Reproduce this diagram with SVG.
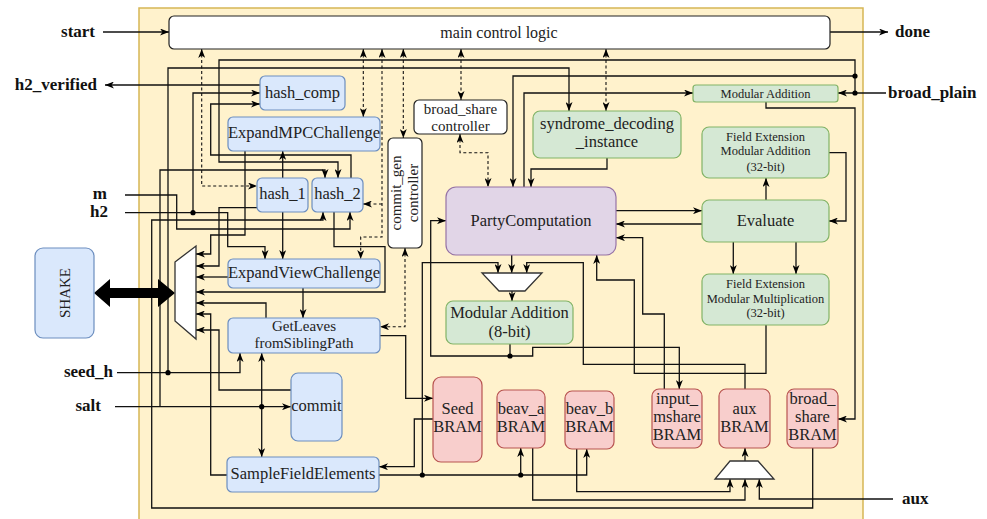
<svg xmlns="http://www.w3.org/2000/svg" width="987" height="519" viewBox="0 0 987 519">
<style>
.t{font-family:"Liberation Serif","DejaVu Serif",serif;font-size:16.5px;fill:#222;text-anchor:middle}
.t2{font-size:15px}
.s{font-family:"Liberation Serif","DejaVu Serif",serif;font-size:12.5px;fill:#222;text-anchor:middle}
.b{font-family:"Liberation Serif","DejaVu Serif",serif;font-size:17px;font-weight:bold;fill:#111}
.blue{fill:#dae8fc;stroke:#6c8ebf;stroke-width:1.2}
.green{fill:#d5e8d4;stroke:#82b366;stroke-width:1.2}
.red{fill:#f8cecc;stroke:#b85450;stroke-width:1.2}
.purple{fill:#e1d5e7;stroke:#9673a6;stroke-width:1.2}
.white{fill:#fff;stroke:#222;stroke-width:1.2}
.mux{fill:#fff;stroke:#333;stroke-width:1.3}
#connectors path{fill:none;stroke:#111;stroke-width:1.3}
#connectors path.d{stroke-dasharray:3 2.5;stroke-width:1.1}
#connectors circle{fill:#000}
</style>
<defs>
<marker id="ah" viewBox="0 0 9 7" refX="9" refY="3.5" markerWidth="9" markerHeight="7" markerUnits="userSpaceOnUse" orient="auto-start-reverse">
<path d="M0,0 L9,3.5 L0,7 L2.5,3.5 z" fill="#000"/>
</marker>
</defs>

<!-- accelerator region -->
<rect x="139" y="8" width="724" height="520" fill="#fff2cc" stroke="#d6b656" stroke-width="1.5"/>

<!-- external port labels -->
<text class="b" x="95" y="37" text-anchor="end">start</text>
<text class="b" x="895" y="37">done</text>
<text class="b" x="97" y="90" text-anchor="end">h2_verified</text>
<text class="b" x="888" y="98">broad_plain</text>
<text class="b" x="107" y="199" text-anchor="end">m</text>
<text class="b" x="108" y="217" text-anchor="end">h2</text>
<text class="b" x="113" y="377" text-anchor="end">seed_h</text>
<text class="b" x="101" y="411" text-anchor="end">salt</text>
<text class="b" x="902" y="504">aux</text>

<g id="connectors">
<!-- control ports -->
<path d="M103,32 H169" marker-end="url(#ah)"/>
<path d="M830,32 H888" marker-end="url(#ah)"/>
<path d="M260,85 H105" marker-end="url(#ah)"/>
<!-- inputs h2 / m / seed_h / salt / broad_plain -->
<path d="M125,212.7 H227.7 V246.7 H265 V259" marker-end="url(#ah)"/>
<path d="M193,212.7 V93 H260" marker-end="url(#ah)"/>
<path d="M125,195 H176.7 V229 H350 V212" marker-end="url(#ah)"/>
<path d="M117,372.7 H240 V353" marker-end="url(#ah)"/>
<path d="M168,372.7 V68 H569 V111" marker-end="url(#ah)"/>
<path d="M115,406.7 H291" marker-end="url(#ah)"/>
<path d="M261.7,353 V457" marker-start="url(#ah)" marker-end="url(#ah)"/>
<path d="M160,406.7 V170 H325 V178" marker-end="url(#ah)"/>
<path d="M886,93 H838" marker-end="url(#ah)"/>
<path d="M855,93 V60 H219 V162 H338 V178" marker-end="url(#ah)"/>
<path d="M855,76 H513 V187" marker-end="url(#ah)"/>
<!-- hash blocks -->
<path d="M351,178 V155 H210.7 V104 H260" marker-end="url(#ah)"/>
<path d="M812.7,448 V508 H151.7 V220 H323 V212" marker-end="url(#ah)"/>
<path d="M282.7,178 V151" marker-end="url(#ah)"/>
<path d="M282.7,212 V259" marker-end="url(#ah)"/>
<!-- SHAKE multiplexer inputs -->
<path d="M245,151 V235 H210.7 V254 H196" marker-end="url(#ah)"/>
<path d="M257,207.7 H219 V266 H196" marker-end="url(#ah)"/>
<path d="M228,277 H196" marker-end="url(#ah)"/>
<path d="M334,212 V246.7 H385 V292 H196" marker-end="url(#ah)"/>
<path d="M266,318 V303 H196" marker-end="url(#ah)"/>
<path d="M227,475 H210.7 V314 H196" marker-end="url(#ah)"/>
<path d="M291,390 H219 V330 H196" marker-end="url(#ah)"/>
<!-- leaves, seeds and field elements -->
<path d="M303,288 V318" marker-end="url(#ah)"/>
<path d="M380,335.7 H405.7 V398.3 H433" marker-end="url(#ah)"/>
<path d="M433,419 H414.3 V466.7 H379" marker-end="url(#ah)"/>
<path d="M379,475 H586.7 V449" marker-end="url(#ah)"/>
<path d="M520.7,475 V448" marker-end="url(#ah)"/>
<path d="M422.3,475 V262.7 H498 V273" marker-end="url(#ah)"/>
<!-- party computation datapath -->
<path d="M511.7,255 V273" marker-end="url(#ah)"/>
<path d="M745,389 V364.3 H583.3 V262.7 H526.7 V273" marker-end="url(#ah)"/>
<path d="M512,291 V301" marker-end="url(#ah)"/>
<path d="M510,344 V356 H430.7 V220.7 H446" marker-end="url(#ah)"/>
<path d="M510,356 H532.7 V347.3 H679.3 V389" marker-end="url(#ah)"/>
<path d="M664.3,389 V314 H642.7 V237.7 H616" marker-end="url(#ah)"/>
<path d="M766,325 V373.3 H634.3 V280 H596.7 V255" marker-end="url(#ah)"/>
<path d="M616,210.7 H702" marker-end="url(#ah)"/>
<path d="M702,224 H616" marker-end="url(#ah)"/>
<path d="M766,200 V178" marker-end="url(#ah)"/>
<path d="M829,152.7 H846 V221 H829" marker-end="url(#ah)"/>
<path d="M733.3,242 V274" marker-end="url(#ah)"/>
<path d="M796,242 V274" marker-end="url(#ah)"/>
<path d="M607,158 V169 H531 V187" marker-end="url(#ah)"/>
<path d="M524,187 V93 H693" marker-end="url(#ah)"/>
<path d="M766,102 V108 H855 V419 H838" marker-end="url(#ah)"/>
<!-- aux multiplexer -->
<path d="M532.7,448 V500 H745 V479" marker-end="url(#ah)"/>
<path d="M576.7,449 V491.7 H730 V479" marker-end="url(#ah)"/>
<path d="M893,499 H759.3 V479" marker-end="url(#ah)"/>
<path d="M745,461 V448" marker-end="url(#ah)"/>
<!-- control handshakes -->
<path class="d" d="M201.7,49 V186 H257" marker-start="url(#ah)" marker-end="url(#ah)"/>
<path class="d" d="M363.3,49 V117" marker-start="url(#ah)" marker-end="url(#ah)"/>
<path class="d" d="M382,49 V237 H360.7 V259" marker-start="url(#ah)" marker-end="url(#ah)"/>
<path class="d" d="M382,204 H363" marker-end="url(#ah)"/>
<path class="d" d="M403.3,49 V138" marker-start="url(#ah)" marker-end="url(#ah)"/>
<path class="d" d="M461,49 V100" marker-start="url(#ah)" marker-end="url(#ah)"/>
<path class="d" d="M606,49 V111" marker-start="url(#ah)" marker-end="url(#ah)"/>
<path class="d" d="M460,134 V152.7 H488 V187" marker-start="url(#ah)" marker-end="url(#ah)"/>
<path class="d" d="M405,248 V326.7 H380" marker-start="url(#ah)" marker-end="url(#ah)"/>
<!-- junctions -->
<circle cx="193" cy="212.7" r="2.6"/>
<circle cx="855" cy="93" r="2.6"/>
<circle cx="855" cy="76" r="2.6"/>
<circle cx="168" cy="372.7" r="2.6"/>
<circle cx="261.7" cy="406.7" r="2.6"/>
<circle cx="422.3" cy="475" r="2.6"/>
<circle cx="520.7" cy="475" r="2.6"/>
<circle cx="510" cy="356" r="2.6"/>
<!-- SHAKE bus -->
<polygon points="94,293 110,279 110,288 158,288 158,279 175,293 158,307 158,298 110,298 110,307" fill="#000"/>
</g>

<g id="main-control">
<rect class="white" x="169" y="16" width="661" height="33" rx="5"/>
<text class="t" x="499" y="38" style="font-size:16px">main control logic</text>
</g>
<g id="hash-comp">
<rect class="blue" x="260" y="76" width="85" height="34" rx="5"/>
<text class="t" x="302.5" y="98">hash_comp</text>
</g>
<g id="expand-mpc-challenge">
<rect class="blue" x="228" y="117" width="152" height="34" rx="5"/>
<text class="t" x="304" y="138">ExpandMPCChallenge</text>
</g>
<g id="hash-1">
<rect class="blue" x="257" y="178" width="51" height="34" rx="5"/>
<text class="t" x="282.5" y="199">hash_1</text>
</g>
<g id="hash-2">
<rect class="blue" x="312" y="178" width="51" height="34" rx="5"/>
<text class="t" x="337.5" y="199">hash_2</text>
</g>
<g id="commit-gen-controller">
<rect class="white" x="388" y="138" width="34" height="110" rx="5"/>
<text class="t t2" transform="translate(401,193) rotate(-90)">commit_gen</text>
<text class="t t2" transform="translate(418,193) rotate(-90)">controller</text>
</g>
<g id="broad-share-controller">
<rect class="white" x="414" y="100" width="93" height="34" rx="5"/>
<text class="t t2" x="460.5" y="114">broad_share</text>
<text class="t t2" x="460.5" y="130.5">controller</text>
</g>
<g id="syndrome-decoding-instance">
<rect class="green" x="533" y="111" width="148" height="47" rx="7"/>
<text class="t" x="607" y="129">syndrome_decoding</text>
<text class="t" x="607" y="147">_instance</text>
</g>
<g id="modular-addition">
<rect class="green" x="693" y="85" width="145" height="17" rx="3"/>
<text class="s" x="765.5" y="98">Modular Addition</text>
</g>
<g id="field-ext-mod-add">
<rect class="green" x="702" y="127" width="127" height="51" rx="7"/>
<text class="s" x="765.5" y="141">Field Extension</text>
<text class="s" x="765.5" y="155">Modular Addition</text>
<text class="s" x="765.5" y="171">(32-bit)</text>
</g>
<g id="evaluate">
<rect class="green" x="702" y="200" width="127" height="42" rx="7"/>
<text class="t" x="765.5" y="226">Evaluate</text>
</g>
<g id="field-ext-mod-mul">
<rect class="green" x="702" y="274" width="127" height="51" rx="7"/>
<text class="s" x="765.5" y="288">Field Extension</text>
<text class="s" x="765.5" y="303">Modular Multiplication</text>
<text class="s" x="765.5" y="317">(32-bit)</text>
</g>
<g id="party-computation">
<rect class="purple" x="446" y="187" width="170" height="68" rx="10"/>
<text class="t" x="531" y="226">PartyComputation</text>
</g>
<g id="pc-mux">
<polygon class="mux" points="482,273 542,273 525,291 499,291"/>
</g>
<g id="modular-addition-8">
<rect class="green" x="446" y="301" width="127" height="43" rx="7"/>
<text class="t" x="509.5" y="318">Modular Addition</text>
<text class="t" x="509.5" y="337">(8-bit)</text>
</g>
<g id="shake">
<rect class="blue" x="35" y="248" width="59" height="90" rx="8"/>
<text class="t" transform="translate(70,293) rotate(-90)" style="font-size:15px">SHAKE</text>
</g>
<g id="shake-mux">
<polygon class="mux" points="175,262 196,246 196,339 175,321"/>
</g>
<g id="expand-view-challenge">
<rect class="blue" x="228" y="259" width="152" height="29" rx="5"/>
<text class="t" x="304" y="278">ExpandViewChallenge</text>
</g>
<g id="get-leaves">
<rect class="blue" x="228" y="318" width="152" height="35" rx="5"/>
<text class="t t2" x="304" y="331">GetLeaves</text>
<text class="t t2" x="304" y="348">fromSiblingPath</text>
</g>
<g id="commit">
<rect class="blue" x="291" y="373" width="51" height="68" rx="7"/>
<text class="t" x="316.5" y="411">commit</text>
</g>
<g id="sample-field-elements">
<rect class="blue" x="227" y="457" width="152" height="35" rx="5"/>
<text class="t" x="303" y="479">SampleFieldElements</text>
</g>
<g id="seed-bram">
<rect class="red" x="433" y="377" width="49" height="85" rx="8"/>
<text class="t" x="457.5" y="414">Seed</text>
<text class="t" x="457.5" y="432">BRAM</text>
</g>
<g id="beav-a-bram">
<rect class="red" x="497" y="390" width="48" height="58" rx="7"/>
<text class="t" x="521" y="414">beav_a</text>
<text class="t" x="521" y="432">BRAM</text>
</g>
<g id="beav-b-bram">
<rect class="red" x="565" y="391" width="49" height="58" rx="7"/>
<text class="t" x="589.5" y="414">beav_b</text>
<text class="t" x="589.5" y="432">BRAM</text>
</g>
<g id="input-mshare-bram">
<rect class="red" x="652" y="389" width="50" height="59" rx="7"/>
<text class="t" x="677" y="404">input_</text>
<text class="t" x="677" y="422">mshare</text>
<text class="t" x="677" y="440">BRAM</text>
</g>
<g id="aux-bram">
<rect class="red" x="719" y="389" width="51" height="59" rx="7"/>
<text class="t" x="744.5" y="414">aux</text>
<text class="t" x="744.5" y="432">BRAM</text>
</g>
<g id="broad-share-bram">
<rect class="red" x="787" y="389" width="51" height="59" rx="7"/>
<text class="t" x="812.5" y="404">broad_</text>
<text class="t" x="812.5" y="422">share</text>
<text class="t" x="812.5" y="440">BRAM</text>
</g>
<g id="aux-mux">
<polygon class="mux" points="730,461 758,461 774,479 715,479"/>
</g>
</svg>
